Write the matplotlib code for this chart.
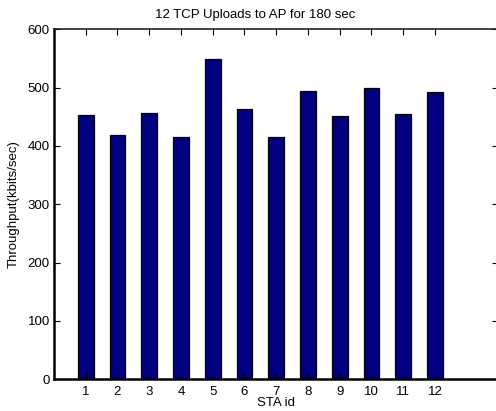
import numpy as np
import matplotlib
matplotlib.use('Agg')
import matplotlib.pyplot as plt

plt.rcParams['font.family'] = ['Liberation Sans', 'DejaVu Sans']

# Per-station upload throughput
sta_ids = [1, 2, 3, 4, 5, 6, 7, 8, 9, 10, 11, 12]
throughput = [453, 418, 456, 416, 549, 464, 415, 495, 451, 500, 455, 493]
y_ticks = [0, 100, 200, 300, 400, 500, 600]

W, H = 496, 411
fig = plt.figure(figsize=(W / 100, H / 100), dpi=100)
ax = fig.add_axes([54 / W, 1 - 379.3 / H, 444.5 / W, 350 / H])

ax.bar(sta_ids, throughput, width=0.5, color='#000080', edgecolor='black', linewidth=0.9)

ax.set_xlim(0, 14)
ax.set_ylim(0, 600)
ax.set_xticks(sta_ids)
ax.set_yticks(y_ticks)

ax.tick_params(direction='in', length=4, width=0.8, labelsize=9.5, colors='black',
               top=True, right=True)
ax.tick_params(axis='x', pad=5)
ax.tick_params(axis='y', pad=3)

for side in ['left', 'bottom']:
    ax.spines[side].set_linewidth(1.8)
    ax.spines[side].set_color('black')
for side in ['top', 'right']:
    ax.spines[side].set_linewidth(1.2)
    ax.spines[side].set_color('#222222')

fig.text(255.5 / W, 1 - 15 / H, '12 TCP Uploads to AP for 180 sec', ha='center', va='center', fontsize=9.5)
fig.text(276 / W, 1 - 403 / H, 'STA id', ha='center', va='center', fontsize=9.5)
fig.text(14 / W, 1 - 204 / H, 'Throughput(kbits/sec)', ha='center', va='center', rotation=90, fontsize=9.5)

fig.savefig('out.png', dpi=100)
